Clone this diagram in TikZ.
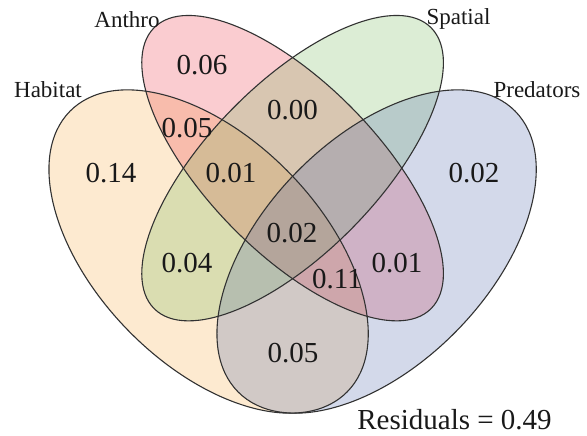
\documentclass[tikz,border=0pt]{standalone}
\usepackage{fontspec}
\setmainfont{Liberation Serif}
\definecolor{habc}{RGB}{247,171,67}
\definecolor{antc}{RGB}{235,51,67}
\definecolor{spac}{RGB}{115,183,87}
\definecolor{prec}{RGB}{79,103,171}
\definecolor{edge}{RGB}{50,50,50}
\definecolor{txt}{RGB}{25,25,25}
\tikzset{
  setfill/.style={fill=#1, fill opacity=0.25, draw=none},
  setline/.style={draw=edge, line width=1.1pt},
  numlab/.style={font=\fontsize{29}{29}\selectfont, text=txt, inner sep=0pt, anchor=base},
  catlab/.style={font=\fontsize{23}{23}\selectfont, text=txt, inner sep=0pt, anchor=base},
}
\begin{document}
\begin{tikzpicture}[x=1pt,y=-1pt]
\useasboundingbox (0,0) rectangle (587,436);
\begin{scope}[shift={(12.6,518)}, xscale=560, yscale=567, y=1pt]
  % fills
  \path[setfill=habc, rotate around={135:(0.35,0.47)}] (0.35,0.47) ellipse [x radius=0.35, y radius=0.20];
  \path[setfill=antc, rotate around={135:(0.5,0.617)}] (0.5,0.617) ellipse [x radius=0.35, y radius=0.15];
  \path[setfill=spac, rotate around={45:(0.5,0.617)}] (0.5,0.617) ellipse [x radius=0.35, y radius=0.15];
  \path[setfill=prec, rotate around={45:(0.65,0.47)}] (0.65,0.47) ellipse [x radius=0.35, y radius=0.20];
  % outlines
  \draw[setline, rotate around={135:(0.35,0.47)}] (0.35,0.47) ellipse [x radius=0.35, y radius=0.20];
  \draw[setline, rotate around={135:(0.5,0.617)}] (0.5,0.617) ellipse [x radius=0.35, y radius=0.15];
  \draw[setline, rotate around={45:(0.5,0.617)}] (0.5,0.617) ellipse [x radius=0.35, y radius=0.15];
  \draw[setline, rotate around={45:(0.65,0.47)}] (0.65,0.47) ellipse [x radius=0.35, y radius=0.20];
\end{scope}
% category labels
\node[catlab] (lanthro) at (127,28) {Anthro};
\node[catlab] (lhab) at (48,98) {Habitat};
\node[catlab] (lspat) at (458.5,25) {Spatial};
\node[catlab] (lpred) at (537,98) {Predators};
% region values
\node[numlab] (n1) at (202,75) {0.06};
\node[numlab] (n2) at (292.5,120) {0.00};
\node[numlab] (n3) at (187,137) {0.05};
\node[numlab] (n4) at (111,182) {0.14};
\node[numlab] (n5) at (231,182) {0.01};
\node[numlab] (n6) at (474,182) {0.02};
\node[numlab] (n7) at (292,242) {0.02};
\node[numlab] (n8) at (187,272) {0.04};
\node[numlab] (n9) at (397,272) {0.01};
\node[numlab] (n10) at (337,288) {0.11};
\node[numlab] (n11) at (293,362) {0.05};
\node[numlab] (res) at (454.5,429) {Residuals = 0.49};
\end{tikzpicture}
\end{document}
